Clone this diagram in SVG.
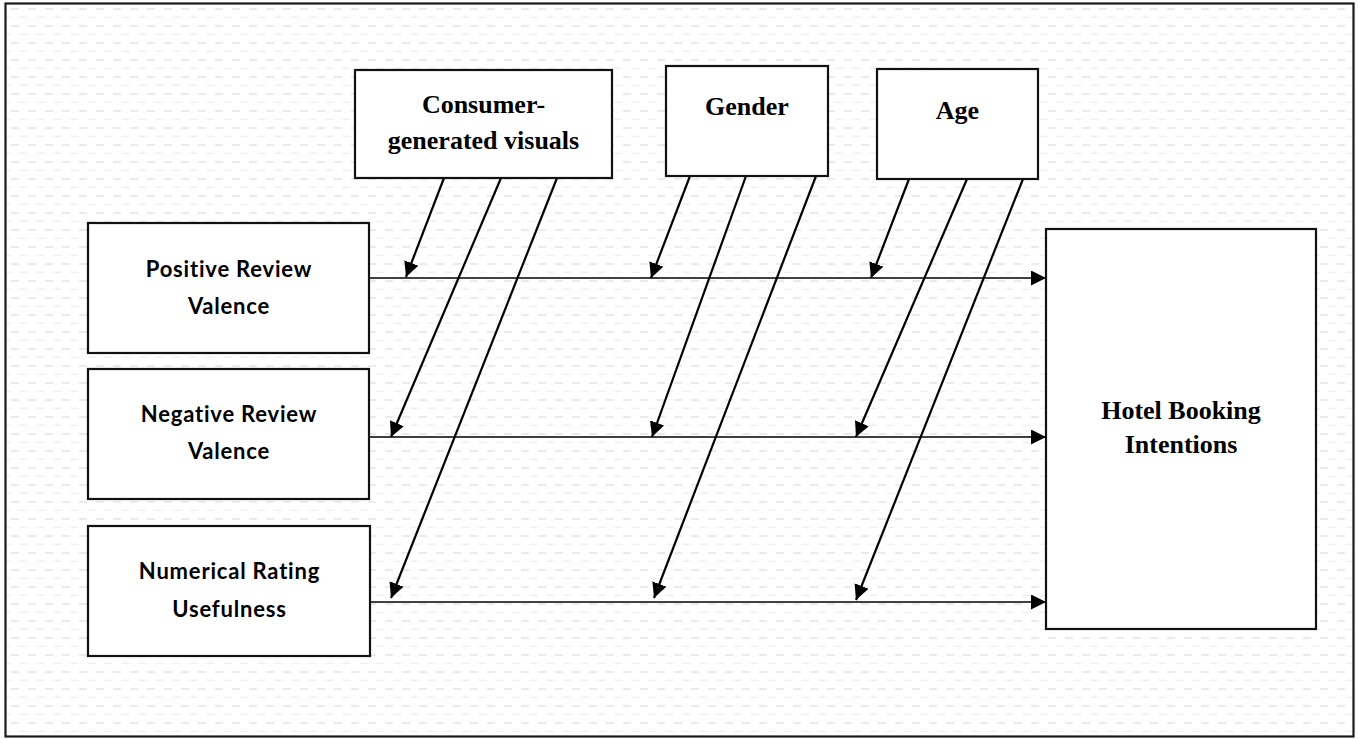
<svg xmlns="http://www.w3.org/2000/svg" width="1358" height="739" viewBox="0 0 1358 739">
<style>
.box{fill:#fff;stroke:#111;stroke-width:2.2}
.serif{font-family:"Liberation Serif","Times New Roman",serif;font-weight:bold;font-size:26px;fill:#000;text-anchor:middle}
.sans{font-family:Lato,"Open Sans","Liberation Sans",sans-serif;font-weight:bold;font-size:22px;letter-spacing:0.8px;fill:#000;text-anchor:middle}
.h{stroke:#000;stroke-width:1.4;fill:none}
.d{stroke:#000;stroke-width:2.2;fill:none}
</style>
<defs>
<pattern id="bg" patternUnits="userSpaceOnUse" x="11" y="8" width="17" height="17">
<rect x="0" y="0" width="8" height="2" fill="#ebebeb"/>
<rect x="8.5" y="8.6" width="8" height="1.5" fill="#f0f0f0"/>
</pattern>
<marker id="ah" markerUnits="userSpaceOnUse" markerWidth="16" markerHeight="16" refX="15" refY="7.5" orient="auto" viewBox="0 0 16 16">
<path d="M0,0 L15,7.5 L0,15 z" fill="#000"/>
</marker>
</defs>
<rect x="0" y="0" width="1358" height="739" fill="#fff"/>
<rect id="frame" x="5.5" y="3.5" width="1348" height="733" fill="url(#bg)" stroke="#1a1a1a" stroke-width="2.2"/>

<g id="connectors">
<line class="h" x1="370" y1="278" x2="1046" y2="278" marker-end="url(#ah)"/>
<line class="h" x1="370" y1="437" x2="1046" y2="437" marker-end="url(#ah)"/>
<line class="h" x1="370" y1="602" x2="1046" y2="602" marker-end="url(#ah)"/>
<line class="d" x1="444" y1="178" x2="406" y2="277" marker-end="url(#ah)"/>
<line class="d" x1="501" y1="178" x2="391" y2="437" marker-end="url(#ah)"/>
<line class="d" x1="557" y1="178" x2="391" y2="598" marker-end="url(#ah)"/>
<line class="d" x1="690" y1="176" x2="651" y2="278" marker-end="url(#ah)"/>
<line class="d" x1="746" y1="176" x2="652" y2="437" marker-end="url(#ah)"/>
<line class="d" x1="816" y1="176" x2="654" y2="598" marker-end="url(#ah)"/>
<line class="d" x1="909" y1="179" x2="871" y2="278" marker-end="url(#ah)"/>
<line class="d" x1="967" y1="179" x2="856" y2="437" marker-end="url(#ah)"/>
<line class="d" x1="1023" y1="179" x2="856" y2="600" marker-end="url(#ah)"/>
</g>

<g id="consumer">
<rect class="box" x="355" y="70" width="257" height="108"/>
<text class="serif" x="483.5" y="113">Consumer-</text>
<text class="serif" x="483.5" y="149">generated visuals</text>
</g>
<g id="gender">
<rect class="box" x="666" y="66" width="162" height="110"/>
<text class="serif" x="747" y="115">Gender</text>
</g>
<g id="age">
<rect class="box" x="877" y="69" width="161" height="110"/>
<text class="serif" x="957.5" y="119">Age</text>
</g>
<g id="positive">
<rect class="box" x="88" y="223" width="281" height="130"/>
<text class="sans" x="229" y="277">Positive Review</text>
<text class="sans" x="229" y="314">Valence</text>
</g>
<g id="negative">
<rect class="box" x="88" y="369" width="281" height="130"/>
<text class="sans" x="229" y="422">Negative Review</text>
<text class="sans" x="229" y="459">Valence</text>
</g>
<g id="numerical">
<rect class="box" x="88" y="526" width="282" height="130"/>
<text class="sans" x="229.5" y="579">Numerical Rating</text>
<text class="sans" x="229.5" y="617">Usefulness</text>
</g>
<g id="hotel">
<rect class="box" x="1046" y="229" width="270" height="400"/>
<text class="serif" x="1181" y="419">Hotel Booking</text>
<text class="serif" x="1181" y="453">Intentions</text>
</g>
</svg>
